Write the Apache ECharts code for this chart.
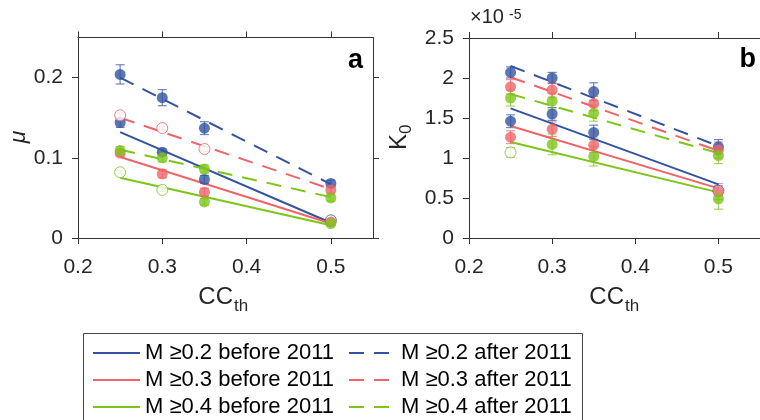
<!DOCTYPE html>
<html><head><meta charset="utf-8">
<script src="https://cdn.jsdelivr.net/npm/echarts@6/dist/echarts.min.js"></script>
<style>html,body{margin:0;padding:0;background:#fff}#c{width:760px;height:420px}</style>
</head><body><div id="c"></div>
<script>
// ---- data ----
const cc = [0.25, 0.30, 0.35, 0.50];
const fitX = [0.25, 0.50];
const xTicks = [0.2, 0.3, 0.4, 0.5];
const muTicks = [0, 0.1, 0.2];
const k0Ticks = [0, 0.5, 1, 1.5, 2, 2.5];   // ×10^-5

const legendNames = [
  'M \u22650.2 before 2011', 'M \u22650.2 after 2011',
  'M \u22650.3 before 2011', 'M \u22650.3 after 2011',
  'M \u22650.4 before 2011', 'M \u22650.4 after 2011'
];

// Panel a: mu
const muB02 = [0.144, 0.107, 0.073, 0.022];
const muB02Err = [0.006, 0.004, 0.005, 0.002];
const muB02Open = [false, false, false, true];
const muB02Fit = [0.132, 0.019];
const muA02 = [0.204, 0.175, 0.137, 0.068];
const muA02Err = [0.012, 0.010, 0.008, 0.004];
const muA02Open = [false, false, false, false];
const muA02Fit = [0.200, 0.067];
const muB03 = [0.106, 0.080, 0.057, 0.020];
const muB03Err = [0.004, 0.005, 0.005, 0.002];
const muB03Open = [false, false, false, false];
const muB03Fit = [0.101, 0.018];
const muA03 = [0.153, 0.137, 0.111, 0.060];
const muA03Err = [0.003, 0.002, 0.003, 0.004];
const muA03Open = [true, true, true, false];
const muA03Fit = [0.150, 0.061];
const muB04 = [0.082, 0.060, 0.045, 0.018];
const muB04Err = [0.002, 0.002, 0.004, 0.002];
const muB04Open = [true, true, false, false];
const muB04Fit = [0.075, 0.016];
const muA04 = [0.109, 0.100, 0.086, 0.050];
const muA04Err = [0.005, 0.005, 0.005, 0.004];
const muA04Open = [false, false, false, false];
const muA04Fit = [0.110, 0.051];

// Panel b: K0 (in units of 10^-5)
const kB02 = [1.46, 1.55, 1.32, 0.59];
const kB02Err = [0.08, 0.08, 0.09, 0.06];
const kB02Open = [false, false, false, true];
const kB02Fit = [1.62, 0.67];
const kA02 = [2.07, 2.00, 1.83, 1.14];
const kA02Err = [0.07, 0.07, 0.11, 0.09];
const kA02Open = [false, false, false, false];
const kA02Fit = [2.15, 1.15];
const kB03 = [1.26, 1.36, 1.16, 0.58];
const kB03Err = [0.08, 0.09, 0.09, 0.10];
const kB03Open = [false, false, false, false];
const kB03Fit = [1.40, 0.62];
const kA03 = [1.89, 1.85, 1.68, 1.10];
const kA03Err = [0.09, 0.09, 0.09, 0.10];
const kA03Open = [false, false, false, false];
const kA03Fit = [2.01, 1.09];
const kB04 = [1.07, 1.17, 1.02, 0.49];
const kB04Err = [0.06, 0.13, 0.12, 0.13];
const kB04Open = [true, false, false, false];
const kB04Fit = [1.20, 0.57];
const kA04 = [1.75, 1.71, 1.56, 1.03];
const kA04Err = [0.10, 0.10, 0.10, 0.10];
const kA04Open = [false, false, false, false];
const kA04Fit = [1.80, 1.06];

// ---- styling ----
const BLUE = '#3353A0', RED = '#EF6468', GREEN = '#7CC51A';
const AX = '#333333', TXT = '#262626';
const FONT = '"Liberation Sans", Arial, Helvetica, sans-serif';
const DASH = [15, 10];

const groupsA = [
  {name: legendNames[0], c: BLUE, dash: false, v: muB02, e: muB02Err, o: muB02Open, f: muB02Fit},
  {name: legendNames[1], c: BLUE, dash: true,  v: muA02, e: muA02Err, o: muA02Open, f: muA02Fit},
  {name: legendNames[2], c: RED,  dash: false, v: muB03, e: muB03Err, o: muB03Open, f: muB03Fit},
  {name: legendNames[3], c: RED,  dash: true,  v: muA03, e: muA03Err, o: muA03Open, f: muA03Fit},
  {name: legendNames[4], c: GREEN,dash: false, v: muB04, e: muB04Err, o: muB04Open, f: muB04Fit},
  {name: legendNames[5], c: GREEN,dash: true,  v: muA04, e: muA04Err, o: muA04Open, f: muA04Fit}
];
const groupsB = [
  {name: legendNames[0], c: BLUE, dash: false, v: kB02, e: kB02Err, o: kB02Open, f: kB02Fit},
  {name: legendNames[1], c: BLUE, dash: true,  v: kA02, e: kA02Err, o: kA02Open, f: kA02Fit},
  {name: legendNames[2], c: RED,  dash: false, v: kB03, e: kB03Err, o: kB03Open, f: kB03Fit},
  {name: legendNames[3], c: RED,  dash: true,  v: kA03, e: kA03Err, o: kA03Open, f: kA03Fit},
  {name: legendNames[4], c: GREEN,dash: false, v: kB04, e: kB04Err, o: kB04Open, f: kB04Fit},
  {name: legendNames[5], c: GREEN,dash: true,  v: kA04, e: kA04Err, o: kA04Open, f: kA04Fit}
];

function errRender(color) {
  return function (params, api) {
    const x = api.value(0), y = api.value(1), e = api.value(2);
    const lo = api.coord([x, y - e]), hi = api.coord([x, y + e]);
    const w = 4.5;
    const st = {stroke: color, lineWidth: 1.2, opacity: 0.7};
    return {type: 'group', children: [
      {type: 'line', shape: {x1: lo[0], y1: lo[1], x2: hi[0], y2: hi[1]}, style: st},
      {type: 'line', shape: {x1: lo[0] - w, y1: lo[1], x2: lo[0] + w, y2: lo[1]}, style: st},
      {type: 'line', shape: {x1: hi[0] - w, y1: hi[1], x2: hi[0] + w, y2: hi[1]}, style: st}
    ]};
  };
}

function buildSeries(groups, axisIdx) {
  const out = [];
  groups.forEach(function (g) {
    out.push({
      type: 'line', name: g.name, xAxisIndex: axisIdx, yAxisIndex: axisIdx,
      symbol: 'none', z: 3, silent: true,
      lineStyle: {color: g.c, width: 2, type: g.dash ? DASH : 'solid'},
      itemStyle: {color: g.c},
      data: fitX.map(function (x, i) { return [x, g.f[i]]; })
    });
  });
  groups.forEach(function (g) {
    out.push({
      type: 'custom', name: g.name + ' err', xAxisIndex: axisIdx, yAxisIndex: axisIdx,
      renderItem: errRender(g.c), z: 2, silent: true,
      encode: {x: 0, y: 1},
      data: cc.map(function (x, i) { return [x, g.v[i], g.e[i]]; })
    });
  });
  groups.forEach(function (g) {
    out.push({
      type: 'scatter', name: g.name + ' pts', xAxisIndex: axisIdx, yAxisIndex: axisIdx,
      symbol: 'circle', symbolSize: 11, z: 4, silent: true,
      data: cc.map(function (x, i) {
        return {value: [x, g.v[i]], itemStyle: g.o[i]
          ? {color: '#ffffff', borderColor: g.c, borderWidth: 1}
          : {color: g.c, borderWidth: 0}};
      })
    });
  });
  return out;
}

function xAx(grid, pos, labels) {
  return {
    type: 'value', gridIndex: grid, position: pos, min: 0.2, max: 0.55,
    axisLine: {show: true, onZero: false, lineStyle: {color: AX, width: 1}},
    axisTick: {show: true, inside: false, length: 6, customValues: xTicks, lineStyle: {color: AX}},
    axisLabel: {show: labels, customValues: xTicks, margin: 19, fontSize: 21, color: TXT, fontFamily: FONT,
      formatter: function (v) { return v.toFixed(1); }},
    splitLine: {show: false}
  };
}
function yAx(grid, pos, labels, max, ticks) {
  return {
    type: 'value', gridIndex: grid, position: pos, min: 0, max: max,
    axisLine: {show: true, onZero: false, lineStyle: {color: AX, width: 1}},
    axisTick: {show: true, inside: false, length: 6, customValues: ticks, lineStyle: {color: AX}},
    axisLabel: {show: labels, customValues: ticks, margin: 15, fontSize: 21, color: TXT, fontFamily: FONT,
      formatter: function (v) { return String(Math.round(v * 10) / 10); }},
    splitLine: {show: false}
  };
}

function legendData(names, dashed) {
  return names.map(function (n) {
    return dashed ? {name: n, lineStyle: {type: [15, 10]}} : {name: n};
  });
}
const legendCommon = {
  orient: 'vertical', top: 342, itemWidth: 47, itemHeight: 14, itemGap: 5, padding: 0,
  selectedMode: false, itemStyle: {opacity: 0},
  textStyle: {fontSize: 22, color: '#000', fontFamily: FONT}
};

const chart = echarts.init(document.getElementById('c'), null, {renderer: 'canvas'});
const option = {
  backgroundColor: '#ffffff',
  animation: false,
  grid: [
    {left: 78, top: 37.5, width: 295, height: 200.5},
    {left: 469, top: 38, width: 294, height: 200}
  ],
  xAxis: [xAx(0, 'bottom', true), xAx(0, 'top', false), xAx(1, 'bottom', true), xAx(1, 'top', false)],
  yAxis: [yAx(0, 'left', true, 0.25, muTicks), yAx(0, 'right', false, 0.25, muTicks),
          yAx(1, 'left', true, 2.5, k0Ticks), yAx(1, 'right', false, 2.5, k0Ticks)],
  legend: [
    Object.assign({}, legendCommon, {left: 92, data: legendData([legendNames[0], legendNames[2], legendNames[4]], false)}),
    Object.assign({}, legendCommon, {left: 348, data: legendData([legendNames[1], legendNames[3], legendNames[5]], true)})
  ],
  series: buildSeries(groupsA, 0).concat(buildSeries(groupsB, 2)),
  graphic: [
    {type: 'rect', shape: {x: 83.5, y: 333.5, width: 499, height: 110}, style: {fill: 'none', stroke: '#444', lineWidth: 1}, z: 1},
    {type: 'text', x: 363, y: 61, style: {text: 'a', font: 'bold 27px ' + FONT, fill: '#000', textAlign: 'right', textVerticalAlign: 'middle'}},
    {type: 'text', x: 756, y: 60, style: {text: 'b', font: 'bold 27px ' + FONT, fill: '#000', textAlign: 'right', textVerticalAlign: 'middle'}},
    {type: 'text', x: 19, y: 137, rotation: Math.PI / 2, style: {text: '\u03bc', font: 'italic 23px ' + FONT, fill: TXT, textAlign: 'center', textVerticalAlign: 'middle'}},
    {type: 'group', x: 399, y: 137, rotation: Math.PI / 2, children: [
      {type: 'text', x: 3, y: 0, style: {text: 'K', font: '24px ' + FONT, fill: TXT, textAlign: 'right', textVerticalAlign: 'middle'}},
      {type: 'text', x: 3, y: 7, style: {text: '0', font: '17px ' + FONT, fill: TXT, textAlign: 'left', textVerticalAlign: 'middle'}}
    ]},
    {type: 'text', x: 233, y: 297, style: {text: 'CC', font: '24px ' + FONT, fill: TXT, textAlign: 'right', textVerticalAlign: 'middle'}},
    {type: 'text', x: 234, y: 306, style: {text: 'th', font: '17px ' + FONT, fill: TXT, textAlign: 'left', textVerticalAlign: 'middle'}},
    {type: 'text', x: 624, y: 297, style: {text: 'CC', font: '24px ' + FONT, fill: TXT, textAlign: 'right', textVerticalAlign: 'middle'}},
    {type: 'text', x: 625, y: 306, style: {text: 'th', font: '17px ' + FONT, fill: TXT, textAlign: 'left', textVerticalAlign: 'middle'}},
    {type: 'text', x: 470, y: 27, style: {text: '\u00d710', font: '20px ' + FONT, fill: TXT, textAlign: 'left', textVerticalAlign: 'bottom'}},
    {type: 'text', x: 509, y: 22, style: {text: '-5', font: '14px ' + FONT, fill: TXT, textAlign: 'left', textVerticalAlign: 'bottom'}}
  ]
};
chart.setOption(option);
</script>
</body></html>
